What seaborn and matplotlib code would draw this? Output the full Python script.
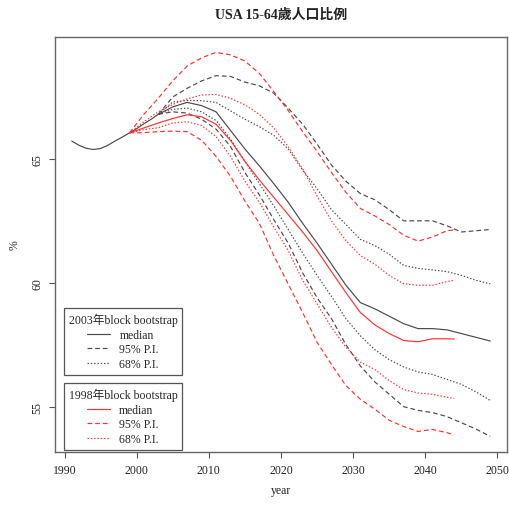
import matplotlib
matplotlib.use("Agg")
import matplotlib.pyplot as plt
import seaborn as sns
from matplotlib.lines import Line2D

# ---------------- DATA ----------------
hist_year = [1991, 1992, 1993, 1994, 1995, 1996, 1997, 1998, 1999, 2000, 2001, 2002, 2003]
hist_val = [65.72, 65.55, 65.43, 65.38, 65.42, 65.55, 65.72, 65.88, 66.05, 66.22, 66.42, 66.6, 66.8]

# 2003 block bootstrap (black)
b_year = list(range(2003, 2050, 2))
b_med = [66.8, 67.1, 67.28, 67.15, 66.9, 66.15, 65.4, 64.72, 64.0, 63.25, 62.4, 61.6,
         60.75, 59.9, 59.2, 58.95, 58.65, 58.35, 58.15, 58.15, 58.1, 57.95, 57.8, 57.65]
b_hi95 = [66.8, 67.5, 67.85, 68.15, 68.36, 68.33, 68.1, 67.95, 67.65, 67.05, 66.4, 65.6,
          64.75, 64.1, 63.6, 63.35, 62.95, 62.5, 62.5, 62.5, 62.3, 62.05, 62.1, 62.15]
b_hi68 = [66.8, 67.3, 67.36, 67.35, 67.28, 66.94, 66.6, 66.3, 65.95, 65.4, 64.55, 63.8,
          62.95, 62.35, 61.75, 61.5, 61.15, 60.7, 60.58, 60.52, 60.45, 60.3, 60.1, 59.96]
b_lo68 = [66.8, 67.0, 67.05, 66.9, 66.55, 65.8, 64.9, 64.0, 63.1, 62.15, 61.2, 60.3,
          59.45, 58.55, 57.86, 57.3, 56.9, 56.6, 56.4, 56.3, 56.1, 55.9, 55.6, 55.25]
b_lo95 = [66.8, 66.9, 66.85, 66.6, 66.2, 65.5, 64.45, 63.55, 62.55, 61.6, 60.4, 59.4,
          58.55, 57.5, 56.64, 56.0, 55.5, 55.0, 54.85, 54.76, 54.6, 54.35, 54.1, 53.8]

# 1998 block bootstrap (red)
r_year = list(range(1999, 2044, 2)) + [2044]
r_med = [66.05, 66.25, 66.45, 66.63, 66.78, 66.7, 66.4, 65.75, 64.9, 64.15, 63.45, 62.75,
         62.05, 61.3, 60.45, 59.6, 58.8, 58.3, 57.95, 57.67, 57.62, 57.74, 57.74, 57.73]
r_hi95 = [66.05, 66.8, 67.45, 68.15, 68.75, 69.08, 69.3, 69.2, 68.95, 68.45, 67.72, 66.95,
          66.1, 65.3, 64.45, 63.65, 63.0, 62.7, 62.35, 61.92, 61.68, 61.85, 62.1, 62.13]
r_hi68 = [66.05, 66.5, 66.9, 67.2, 67.42, 67.58, 67.6, 67.45, 67.18, 66.8, 66.25, 65.5,
          64.6, 63.5, 62.5, 61.7, 61.1, 60.75, 60.3, 59.96, 59.9, 59.9, 60.05, 60.1]
r_lo68 = [66.05, 66.18, 66.26, 66.45, 66.5, 66.35, 65.9, 65.1, 64.1, 63.25, 62.25, 61.3,
          60.1, 59.15, 58.2, 57.4, 56.8, 56.5, 56.05, 55.69, 55.55, 55.5, 55.38, 55.33]
r_lo95 = [66.05, 66.06, 66.1, 66.12, 66.1, 65.75, 65.1, 64.3, 63.3, 62.4, 61.1, 59.95,
          58.8, 57.6, 56.7, 55.85, 55.3, 54.9, 54.45, 54.2, 54.0, 54.08, 53.95, 53.86]

entry_labels = ["median", "95% P.I.", "68% P.I."]

# ---------------- STYLE ----------------
sns.set_theme(style="ticks")
plt.rcParams["font.family"] = ["Liberation Serif", "Noto Sans CJK TC"]
plt.rcParams["axes.unicode_minus"] = False

BLACK = "#4a4a4a"
RED = "#ff3030"
SOLID = "-"
DASH = (0, (4, 2.5))
DOT = (0, (1.2, 1.6))
LW = 0.85

fig = plt.figure(figsize=(5.09, 5.06), dpi=100)
ax = fig.add_axes([55 / 509, 1 - 453 / 506, (507 - 55) / 509, (453 - 38) / 506])


def draw(x, y, color, ls):
    sns.lineplot(x=x, y=y, ax=ax, color=color, linestyle=ls, linewidth=LW,
                 sort=False, estimator=None)


# ---------------- LINES ----------------
draw(hist_year, hist_val, BLACK, SOLID)
draw(b_year, b_med, BLACK, SOLID)
draw(b_year, b_hi95, BLACK, DASH)
draw(b_year, b_lo95, BLACK, DASH)
draw(b_year, b_hi68, BLACK, DOT)
draw(b_year, b_lo68, BLACK, DOT)

draw(r_year, r_med, RED, SOLID)
draw(r_year, r_hi95, RED, DASH)
draw(r_year, r_lo95, RED, DASH)
draw(r_year, r_hi68, RED, DOT)
draw(r_year, r_lo68, RED, DOT)

# ---------------- AXES ----------------
ax.set_xlim(1988.68, 2051.32)
ax.set_ylim(53.17, 69.92)
ax.set_xticks(range(1990, 2051, 10))
ax.set_yticks([55, 60, 65])
ax.tick_params(length=4.3, width=0.8, color="#555555", labelsize=8.5, pad=4,
               labelcolor="#222222")
for lab in ax.get_yticklabels():
    lab.set_rotation(90)
    lab.set_va("center")
for sp in ax.spines.values():
    sp.set_color("#666666")
    sp.set_linewidth(1.0)
ax.grid(False)
ax.set_xlabel("year", fontsize=8.5, labelpad=6, color="#222222")
ax.set_ylabel("%", fontsize=8.5, labelpad=8, color="#222222")

fig.text(281 / 509, 1 - 15 / 506, "USA 15-64歲人口比例", ha="center", va="center",
         fontsize=10, fontweight="bold", color="#222222")

# ---------------- LEGENDS ----------------
def make_legend(color, title, top_px):
    handles = [Line2D([], [], color=color, lw=LW, ls=s) for s in (SOLID, DASH, DOT)]
    leg = ax.legend(handles, entry_labels, title=title, loc="upper left",
                    bbox_to_anchor=(64 / 509, 1 - top_px / 506),
                    bbox_transform=fig.transFigure, borderaxespad=0,
                    fancybox=False, edgecolor="#555555", framealpha=1,
                    fontsize=8.5, title_fontsize=8.5, handlelength=1.9,
                    handletextpad=0.8, labelspacing=0.22, borderpad=0.4)
    leg.get_frame().set_linewidth(0.9)
    return leg


leg1 = make_legend(BLACK, "2003年block bootstrap", 309)
ax.add_artist(leg1)
leg2 = make_legend(RED, "1998年block bootstrap", 384)

fig.savefig("out.png", dpi=100)
